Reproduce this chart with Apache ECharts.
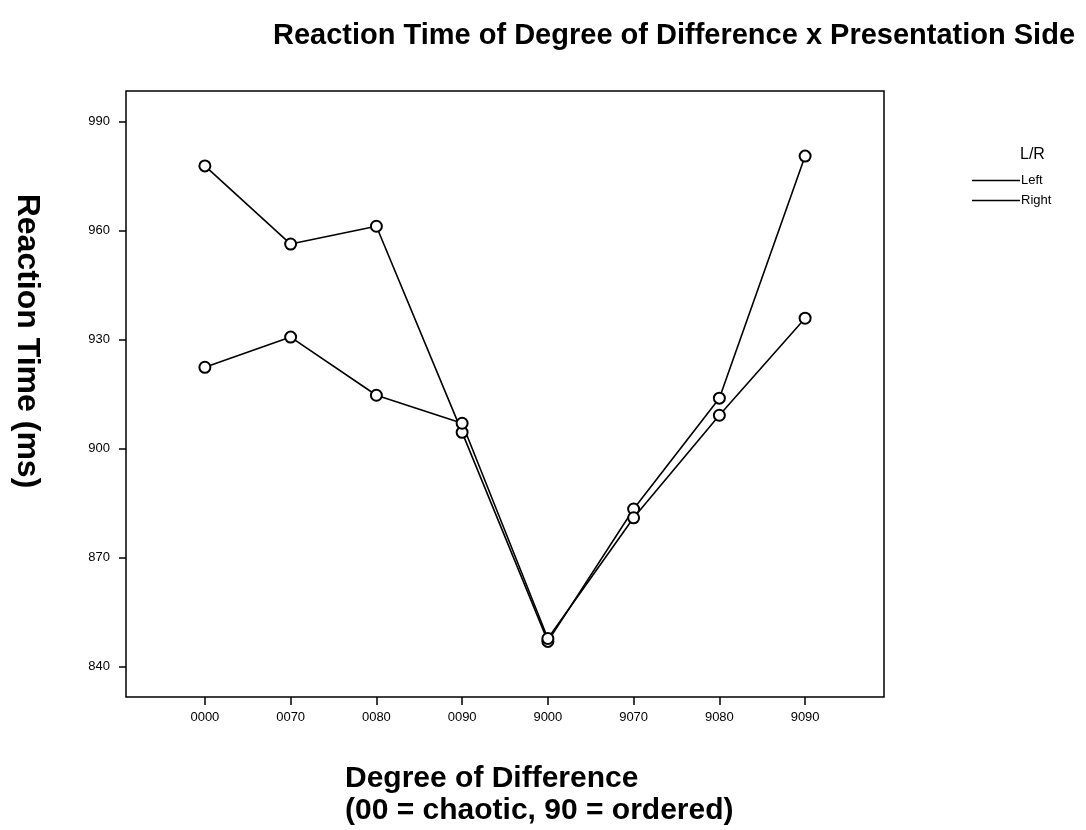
<!DOCTYPE html>
<html>
<head>
<meta charset="utf-8">
<script src="https://cdn.jsdelivr.net/npm/echarts@6/dist/echarts.min.js"></script>
<style>
  html, body { margin: 0; padding: 0; background: #fff; }
</style>
</head>
<body>
<div id="chart" style="width: 1086px; height: 830px;"></div>
<script>
// 数据：类别、两条曲线、刻度
const categories = ["0000", "0070", "0080", "0090", "9000", "9070", "9080", "9090"];
const leftRT = [977.8, 956.3, 961.2, 904.5, 847.0, 883.4, 913.9, 980.5];
const rightRT = [922.4, 930.7, 914.7, 907.0, 847.8, 881.0, 909.2, 935.9];
const yTicks = [840, 870, 900, 930, 960, 990];
const xTicks = categories.map((c, i) => i);

const font = "'Liberation Sans', Arial, Helvetica, sans-serif";

var myChart = echarts.init(document.getElementById("chart"));
var option = {
  backgroundColor: "#fff",
  animation: false,
  textStyle: { fontFamily: font, color: "#000" },
  title: [
    {
      text: "Reaction Time of Degree of Difference x Presentation Side",
      left: 268,
      top: 16,
      textStyle: { fontFamily: font, fontSize: 29, fontWeight: "bold", color: "#000" }
    },
    {
      text: "L/R",
      left: 1015,
      top: 142,
      textStyle: { fontFamily: font, fontSize: 16, fontWeight: "normal", color: "#000" }
    }
  ],
  legend: {
    data: ["Left", "Right"],
    orient: "vertical",
    left: 967,
    top: 169,
    icon: "rect",
    itemWidth: 48,
    itemHeight: 1.5,
    itemGap: 7,
    textStyle: { fontFamily: font, fontSize: 13, color: "#000", padding: [0, 0, 0, -4] }
  },
  grid: {
    left: 126,
    right: 202,
    top: 91,
    bottom: 133,
    show: true,
    borderColor: "#000",
    borderWidth: 1.5,
    backgroundColor: "transparent"
  },
  xAxis: {
    type: "value",
    min: -0.92,
    max: 7.92,
    axisLine: { show: false, onZero: false },
    splitLine: { show: false },
    axisTick: {
      show: true,
      length: 8,
      customValues: xTicks,
      lineStyle: { color: "#000", width: 1.5 }
    },
    axisLabel: {
      customValues: xTicks,
      margin: 14,
      fontSize: 13,
      fontFamily: font,
      color: "#000",
      formatter: v => categories[Math.round(v)]
    }
  },
  yAxis: {
    type: "value",
    min: 831.7,
    max: 998.4,
    axisLine: { show: false, onZero: false },
    splitLine: { show: false },
    axisTick: {
      show: true,
      length: 7,
      customValues: yTicks,
      lineStyle: { color: "#000", width: 1.5 }
    },
    axisLabel: {
      customValues: yTicks,
      margin: 16,
      fontSize: 13,
      fontFamily: font,
      color: "#000"
    }
  },
  graphic: [
    {
      type: "text",
      x: 27,
      y: 341,
      rotation: -Math.PI / 2,
      style: {
        text: "Reaction Time (ms)",
        fontFamily: font,
        fontSize: 32,
        fontWeight: "bold",
        fill: "#000",
        align: "center",
        verticalAlign: "middle"
      }
    },
    {
      type: "text",
      x: 345,
      y: 763,
      style: {
        text: "Degree of Difference\n(00 = chaotic, 90 = ordered)",
        fontFamily: font,
        fontSize: 30,
        fontWeight: "bold",
        lineHeight: 32,
        fill: "#000",
        align: "left",
        verticalAlign: "top"
      }
    }
  ],
  series: [
    {
      name: "Left",
      type: "line",
      data: leftRT.map((v, i) => [i, v]),
      symbol: "emptyCircle",
      symbolSize: 11,
      itemStyle: { color: "#000", borderWidth: 2 },
      lineStyle: { color: "#000", width: 1.6 }
    },
    {
      name: "Right",
      type: "line",
      data: rightRT.map((v, i) => [i, v]),
      symbol: "emptyCircle",
      symbolSize: 11,
      itemStyle: { color: "#000", borderWidth: 2 },
      lineStyle: { color: "#000", width: 1.6 }
    }
  ]
};

myChart.setOption(option);
</script>
</body>
</html>
